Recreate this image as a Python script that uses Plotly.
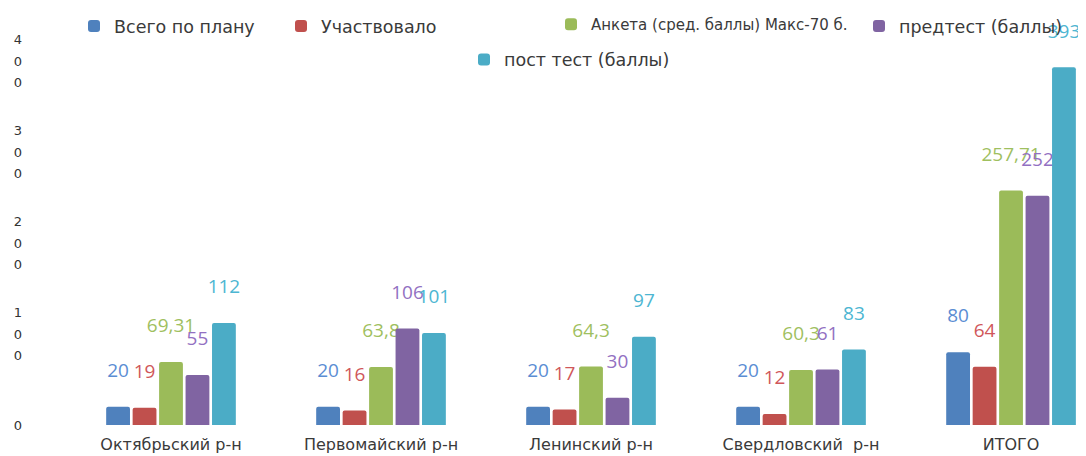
import plotly.graph_objects as go

categories = ["Октябрьский р-н", "Первомайский р-н", "Ленинский р-н", "Свердловский  р-н", "ИТОГО"]
plan = [20, 20, 20, 20, 80]
participated = [19, 16, 17, 12, 64]
anketa = [69.31, 63.8, 64.3, 60.3, 257.71]
pretest = [55, 106, 30, 61, 252]
posttest = [112, 101, 97, 83, 393]

series_names = ["Всего по плану", "Участвовало", "Анкета (сред. баллы) Макс-70 б.",
                "предтест (баллы)", "пост тест (баллы)"]
series_values = [plan, participated, anketa, pretest, posttest]
bar_colors = ["#4F81BD", "#C0504D", "#9BBB59", "#8064A2", "#4BACC6"]
label_colors = ["#5B8DD3", "#D0575A", "#9FC05F", "#9270C2", "#4DB6D2"]

y_tick_vals = [0, 100, 200, 300, 400]
y_tick_labels = ["0", "100", "200", "300", "400"]

# figure is drawn inside the page body (8px default margin)
W, H = 1078, 448

# legend placement (figure px left, container y) and font size for each series
legend_pos = [(66, 1.0), (273, 1.0), (543, 1.0), (851, 1.0), (456, 0.925)]
legend_sizes = [17.5, 17.5, 15, 17.5, 17.5]


def fmt(v):
    return f"{v:g}".replace(".", ",")


legend_ids = ["legend", "legend2", "legend3", "legend4", "legend5"]

fig = go.Figure()
for i, (name, vals) in enumerate(zip(series_names, series_values)):
    fig.add_trace(go.Bar(
        x=categories, y=vals, name=name,
        marker=dict(color=bar_colors[i], cornerradius=2, line=dict(width=0)),
        text=[fmt(v) + "<br><span style='font-size:6px'> </span>" for v in vals],
        textposition="outside",
        textfont=dict(family="Open Sans", size=19, color=label_colors[i]),
        constraintext="none",
        cliponaxis=False,
        legend=legend_ids[i],
    ))

# helper empty traces so overlay axes (stacked tick digits) are drawn
fig.add_trace(go.Scatter(x=[], y=[], yaxis="y2", showlegend=False, hoverinfo="skip"))
fig.add_trace(go.Scatter(x=[], y=[], yaxis="y3", showlegend=False, hoverinfo="skip"))

# tick digits split into three stacked rows (hundreds / tens / units)
top_digits = [s[0] if len(s) == 3 else "" for s in y_tick_labels]
mid_digits = [s[1] if len(s) == 3 else s for s in y_tick_labels]
bot_digits = [s[2] if len(s) == 3 else "" for s in y_tick_labels]

tick_font = dict(family="DejaVu Sans", size=13, color="#333333")
yrange = [0, 458.2]
common_y = dict(range=yrange, showgrid=False, showline=False, zeroline=False,
                ticks="", tickvals=y_tick_vals, tickfont=tick_font,
                ticklabelstandoff=43)

layout_legends = {}
for i, lid in enumerate(legend_ids):
    x_px, yv = legend_pos[i]
    layout_legends[lid] = dict(
        orientation="h", xref="container", yref="container",
        x=x_px / W, y=yv, xanchor="left", yanchor="top",
        font=dict(family="DejaVu Sans", size=legend_sizes[i], color="#3a3a3a"),
        bgcolor="rgba(0,0,0,0)",
    )

fig.update_layout(
    width=W, height=H,
    margin=dict(l=58, r=0, t=0, b=31, autoexpand=False),
    paper_bgcolor="white", plot_bgcolor="white",
    barmode="group", bargap=0.37, bargroupgap=0.1,
    xaxis=dict(range=[-0.5, 4.357], showgrid=False, showline=False, ticks="",
               ticklabelstandoff=8,
               tickfont=dict(family="DejaVu Sans", size=16, color="#3a3a3a")),
    yaxis=dict(**common_y, ticktext=mid_digits),
    yaxis2=dict(**common_y, ticktext=top_digits, overlaying="y", ticklabelshift=-22),
    yaxis3=dict(**common_y, ticktext=bot_digits, overlaying="y", ticklabelshift=21),
    showlegend=True,
    **layout_legends,
)

fig.write_html("out.html")
